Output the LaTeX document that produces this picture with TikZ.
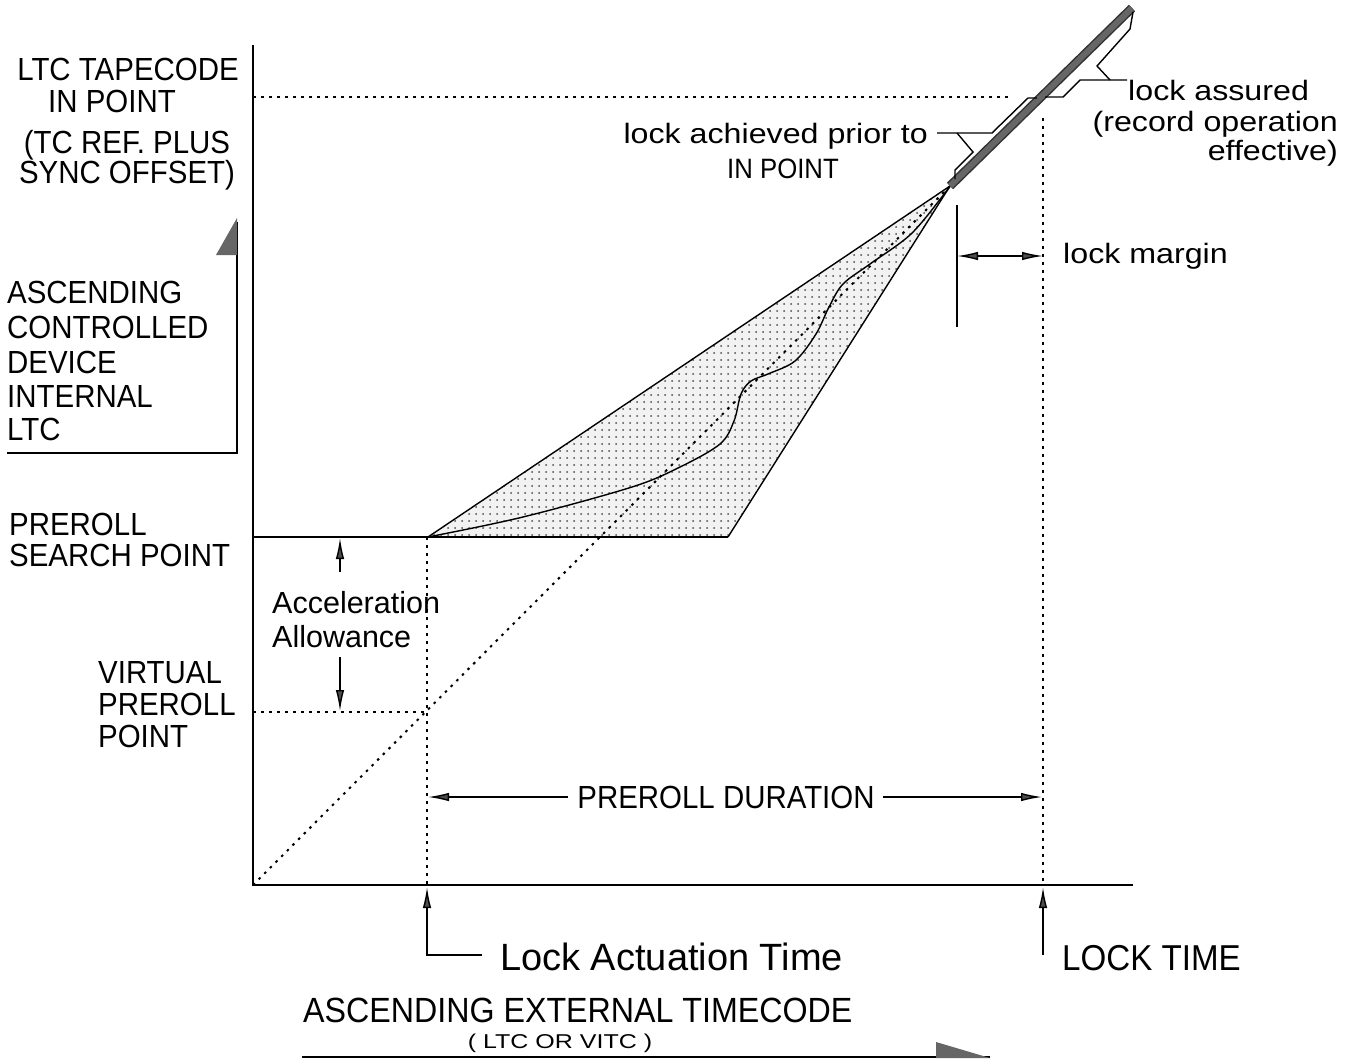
\documentclass[tikz,border=0pt]{standalone}
\usepackage{fontspec}
\setmainfont{Liberation Sans}
\newfontfamily\capf[FakeStretch=0.92]{Liberation Sans}
\newfontfamily\lowf[FakeStretch=1.15]{Liberation Sans}
\newfontfamily\widef[FakeStretch=1.25]{Liberation Sans}
\usetikzlibrary{arrows.meta,patterns}
\pgfdeclarepatternformonly{mydots}{\pgfpoint{-1pt}{-1pt}}{\pgfpoint{1pt}{1pt}}{\pgfpoint{7pt}{7pt}}{\pgfpathcircle{\pgfpointorigin}{1pt}\pgfusepath{fill}}
\tikzset{
  capt/.style={font=\capf\fontsize{32}{36}\selectfont, inner sep=0pt},
  capsmt/.style={font=\capf\fontsize{28}{32}\selectfont, inner sep=0pt},
  lowt/.style={font=\lowf\fontsize{28}{32}\selectfont, inner sep=0pt},
  midt/.style={font=\fontsize{30.5}{34}\selectfont, inner sep=0pt},
  bigt/.style={font=\fontsize{38}{42}\selectfont, inner sep=0pt},
  bigcapt/.style={font=\capf\fontsize{36}{40}\selectfont, inner sep=0pt},
  mainln/.style={line width=1.8pt},
  thinln/.style={line width=1.4pt},
  dotln/.style={line width=2pt, dash pattern=on 2.5pt off 5.5pt},
  arrw/.style={-{Latex[length=21pt,width=8.5pt,fill=black!70]}},
  darrw/.style={{Latex[length=21pt,width=8.5pt,fill=black!70]}-{Latex[length=21pt,width=8.5pt,fill=black!70]}},
}
\begin{document}
\begin{tikzpicture}[x=1pt,y=-1pt]
\useasboundingbox (0,0) rectangle (1359,1060);
% key points
\coordinate (O) at (253,885);
\coordinate (Ytop) at (253,45);
\coordinate (Xend) at (1133,885);
\coordinate (A) at (428,537);
\coordinate (C) at (728,537);
\coordinate (P) at (950,186);
\coordinate (T) at (1132,8);
\coordinate (IPL) at (253,97);
\coordinate (IPR) at (1012,97);
\coordinate (LTt) at (1043,118);
\coordinate (LTb) at (1043,885);
\coordinate (PSL) at (253,537);
\coordinate (VPL) at (253,712);
\coordinate (VP) at (427,712);
\coordinate (LA) at (427,885);
\coordinate (LAt) at (427,537);

% shaded region
\fill[gray!10] (A) -- (C) -- (P) -- cycle;
\fill[pattern=mydots, pattern color=black!70] (A) -- (C) -- (P) -- cycle;
\draw[thinln] (A) -- (P) -- (C);

% dotted lines
\draw[dotln] (IPL) -- (IPR);
\draw[dotln] (LTt) -- (LTb);
\draw[dotln] (LAt) -- (LA);
\draw[dotln] (VPL) -- (VP);
\draw[dotln] (O) -- (P);

% axes and preroll search line
\draw[mainln] (Ytop) -- (O) -- (Xend);
\draw[mainln] (PSL) -- (C);

% actual trajectory
\draw[thinln] plot[smooth, tension=0.55] coordinates {(428,537) (523,517) (632,487) (680,467) (720,444) (734,421) (741,394) (751,381) (768,374) (795,361) (816,334) (829,307) (843,284) (870,264) (911,234) (945,193) (950,186)};

% thick locked line
\draw[line width=9pt, black!80] (P) -- (T);
\draw[line width=6pt, black!60] (P) -- (T);

% brackets
\coordinate (b1a) at (937,133);
\coordinate (b1b) at (992,133);
\coordinate (b1c) at (1028,98);
\coordinate (b1d) at (1037,98);
\draw[thinln] (b1a) -- (b1b) -- (b1c) -- (b1d);
\coordinate (b1e) at (957,133);
\coordinate (b1f) at (973,152);
\coordinate (b1g) at (955,170);
\coordinate (b1h) at (955,179);
\draw[thinln] (b1e) -- (b1f) -- (b1g) -- (b1h);

\coordinate (b2a) at (1045,97);
\coordinate (b2b) at (1063,97);
\coordinate (b2c) at (1080,80);
\coordinate (b2d) at (1127,80);
\draw[thinln] (b2a) -- (b2b) -- (b2c) -- (b2d);
\coordinate (b2e) at (1110,80);
\coordinate (b2f) at (1097,66);
\coordinate (b2g) at (1130,29);
\coordinate (b2h) at (1133,12);
\draw[thinln] (b2e) -- (b2f) -- (b2g) -- (b2h);

% lock margin
\coordinate (LMt) at (957,205);
\coordinate (LMb) at (957,327);
\coordinate (LMl) at (957,256);
\coordinate (LMr) at (1043,256);
\draw[mainln] (LMt) -- (LMb);
\draw[thinln, darrw] (LMl) -- (LMr);

% acceleration allowance arrows
\coordinate (AAt1) at (340,572);
\coordinate (AAt2) at (340,538);
\coordinate (AAb1) at (340,657);
\coordinate (AAb2) at (340,711);
\draw[thinln, arrw] (AAt1) -- (AAt2);
\draw[thinln, arrw] (AAb1) -- (AAb2);

% lock actuation / lock time pointers
\coordinate (LAc) at (427,955);
\coordinate (LAh) at (482,955);
\coordinate (LAtip) at (427,887);
\draw[thinln, arrw] (LAh) -- (LAc) -- (LAtip);
\coordinate (LTc) at (1043,955);
\coordinate (LTtip) at (1043,887);
\draw[thinln, arrw] (LTc) -- (LTtip);

% y-axis label arrow
\coordinate (YA1) at (7,453);
\coordinate (YA2) at (237,453);
\coordinate (YA3) at (237,222);
\draw[thinln] (YA1) -- (YA2) -- (YA3);
\fill[black!60] (237,218) -- (237,255) -- (216,255) -- cycle;

% x-axis label arrow
\coordinate (XA1) at (302,1057);
\coordinate (XA2) at (990,1057);
\draw[thinln] (XA1) -- (XA2);
\fill[black!60] (990,1058) -- (936,1058) -- (936,1042) -- cycle;

% preroll duration
\node[capt, anchor=base] (PD) at (726,808) {PREROLL DURATION};
\coordinate (PDl) at (428,797);
\coordinate (PDr) at (1042,797);
\coordinate (PDla) at (568,797);
\coordinate (PDra) at (883,797);
\draw[thinln, arrw] (PDla) -- (PDl);
\draw[thinln, arrw] (PDra) -- (PDr);

% texts left
\node[capt, anchor=base] (t1) at (128,80) {LTC TAPECODE};
\node[capt, anchor=base] (t2) at (112,112) {IN POINT};
\node[capt, anchor=base] (t3) at (127,153) {(TC REF. PLUS};
\node[capt, anchor=base] (t4) at (127,183) {SYNC OFFSET)};
\node[capt, anchor=base west] (t5) at (7,303) {ASCENDING};
\node[capt, anchor=base west] (t6) at (7,338) {CONTROLLED};
\node[capt, anchor=base west] (t7) at (7,373) {DEVICE};
\node[capt, anchor=base west] (t8) at (7,407) {INTERNAL};
\node[capt, anchor=base west] (t9) at (7,440) {LTC};
\node[capt, anchor=base west] (t10) at (9,535) {PREROLL};
\node[capt, anchor=base west] (t11) at (9,566) {SEARCH POINT};
\node[capt, anchor=base west] (t12) at (98,683) {VIRTUAL};
\node[capt, anchor=base west] (t13) at (98,715) {PREROLL};
\node[capt, anchor=base west] (t14) at (98,747) {POINT};
\node[midt, anchor=base west] (t15) at (272,613) {Acceleration};
\node[midt, anchor=base west] (t16) at (272,647) {Allowance};

% texts right
\node[lowt, anchor=base west] (r1) at (1128,100) {lock assured};
\node[lowt, anchor=base east] (r2) at (1338,131) {(record operation};
\node[lowt, anchor=base east] (r3) at (1338,160) {effective)};
\node[lowt, anchor=base east] (r4) at (928,143) {lock achieved prior to};
\node[capsmt, anchor=base west] (r5) at (727,178) {IN POINT};
\node[lowt, anchor=base west] (r6) at (1063,263) {lock margin};

% bottom texts
\node[bigt, anchor=base west] (b1) at (500,970) {Lock Actuation Time};
\node[bigcapt, anchor=base west] (b2) at (1062,970) {LOCK TIME};
\node[font=\capf\fontsize{35}{38}\selectfont, inner sep=0pt, anchor=base west] (b3) at (303,1022) {ASCENDING EXTERNAL TIMECODE};
\node[font=\widef\fontsize{20}{22}\selectfont, inner sep=0pt, anchor=base] (b4) at (560,1048) {( LTC OR VITC )};
\end{tikzpicture}
\end{document}
